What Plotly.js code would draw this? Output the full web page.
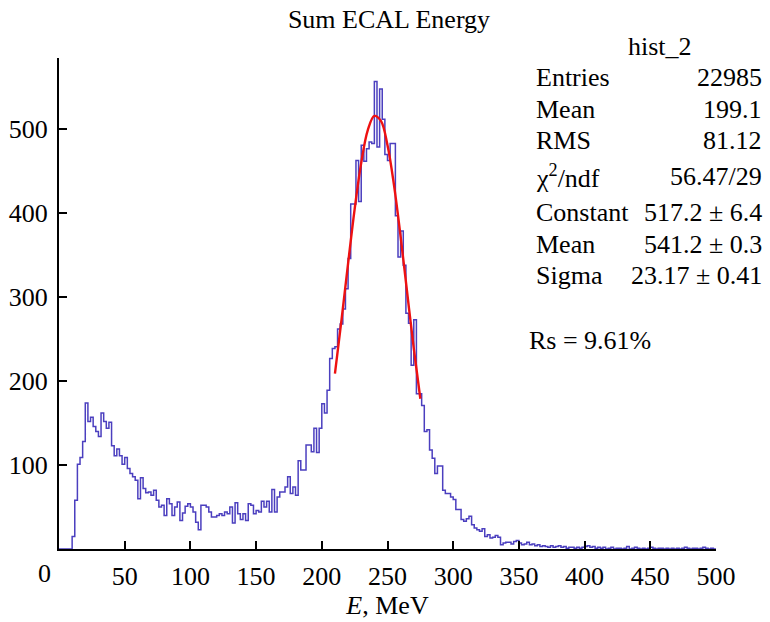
<!DOCTYPE html>
<html>
<head>
<meta charset="utf-8">
<script src="https://cdn.plot.ly/plotly-3.0.1.min.js"></script>
<style>
  html, body { margin: 0; padding: 0; background: #ffffff; }
  #chart { width: 770px; height: 622px; }
</style>
</head>
<body>
<div id="chart"></div>
<script>
// ---- Histogram definition: 2 MeV bins from 0 to 500 MeV ----
const binLow = 0;
const binWidth = 2;

// counts per bin, 10 bins (20 MeV) per row
const countsLow = [
  0, 0, 0, 0, 0, 15, 58, 101, 109, 128,          // 0-20
  174, 152, 157, 146, 140, 134, 162, 152, 144, 151, // 20-40
  123, 111, 119, 111, 101, 109, 96, 90, 86, 82,  // 40-60
  60, 85, 72, 67, 68, 64, 70, 58, 50, 52,        // 60-80
  40, 60, 54, 40, 50, 56, 34, 43, 51, 54,        // 80-100
  50, 44, 32, 23, 52, 52, 50, 44, 38, 38,        // 100-120
  40, 42, 40, 44, 42, 50, 31, 55, 42, 35,        // 120-140
  42, 34, 54, 52, 42, 46, 44, 57, 50, 57,        // 140-160
  44, 71, 44, 62, 68, 68, 74, 86, 66, 74,        // 160-180
  64, 105, 94, 94, 124, 124, 116, 144, 115, 144  // 180-200
];
const countsPeak = [
  173, 162, 189, 227, 239, 241, 262, 268, 286, 310, // 200-220
  346, 411, 411, 463, 414, 481, 462, 477, 485, 483, // 220-240
  557, 479, 548, 512, 470, 463, 483, 483, 397, 348, // 240-260
  379, 338, 281, 269, 219, 273, 185, 185, 171, 140, // 260-280
  142, 118, 108, 90, 99, 99, 70, 66, 66, 62,        // 280-300
  59, 47, 47, 35, 33, 36, 39, 29, 25, 23,           // 300-320
  21, 24, 15, 17, 13, 14, 16, 14, 5, 7              // 320-340
];
const countsTail = [
  8, 8, 6, 9, 10, 7, 5, 6, 8, 5,   // 340-360
  6, 4, 5, 3, 4, 3, 2, 4, 2, 3,    // 360-380
  4, 2, 3, 1, 2, 2, 1, 2, 1, 2,    // 380-400
  3, 4, 2, 3, 1, 2, 1, 2, 0, 1,    // 400-420
  2, 0, 1, 1, 0, 1, 3, 0, 1, 2,    // 420-440
  1, 0, 1, 0, 1, 2, 1, 0, 1, 1,    // 440-460
  0, 1, 0, 1, 0, 1, 0, 1, 2, 1,    // 460-480
  0, 1, 1, 0, 1, 2, 1, 0, 1, 0     // 480-500
];

// Gaussian fit curve as drawn
const fitE = [210, 215, 220, 225, 230, 235, 240, 245, 250, 255, 260, 265, 270, 275];
const fitY = [209, 273, 340, 405, 460, 499, 516, 510, 481, 433, 372, 305, 239, 179];

// Axis ticks
const xTickVals = [50, 100, 150, 200, 250, 300, 350, 400, 450, 500];
const yTickVals = [100, 200, 300, 400, 500];

// Stats box text
const statsTitle = 'hist_2';
const statsLabels = ['Entries', 'Mean', 'RMS', 'χ<sup>2</sup>/ndf', 'Constant', 'Mean', 'Sigma'];
const statsValues = ['22985', '199.1', '81.12', '56.47/29', '517.2 ± 6.4', '541.2 ± 0.3', '23.17 ± 0.41'];
const resolutionText = 'Rs = 9.61%';

// ---- build step histogram ----
const counts = countsLow.concat(countsPeak, countsTail);
const edges = [];
const stepY = [];
for (let i = 0; i < counts.length; i++) {
  edges.push(binLow + i * binWidth);
  stepY.push(counts[i]);
}
edges.push(binLow + counts.length * binWidth);
stepY.push(counts[counts.length - 1]);

// pixel geometry helpers (plot area)
const L = 59, R = 54, T = 58, B = 73, W = 770, H = 622;
const pw = W - L - R, ph = H - T - B;
const px = x => (x - L) / pw;
const py = y => (H - B - y) / ph;

const FONT = 'Liberation Serif, Times New Roman, serif';
const SF = 26; // stats font size
const annotations = [];
annotations.push({text: statsTitle, xref: 'paper', yref: 'paper', x: px(660), y: py(47),
  xanchor: 'center', yanchor: 'middle', showarrow: false, font: {family: FONT, size: SF, color: '#000'}});
const rowY = [78, 109, 140, 176, 212, 244, 275];
for (let i = 0; i < statsLabels.length; i++) {
  annotations.push({text: statsLabels[i], xref: 'paper', yref: 'paper', x: px(534), y: py(rowY[i]),
    xanchor: 'left', yanchor: 'middle', showarrow: false, font: {family: FONT, size: SF, color: '#000'}});
  annotations.push({text: statsValues[i], xref: 'paper', yref: 'paper', x: px(764), y: py(rowY[i]),
    xanchor: 'right', yanchor: 'middle', showarrow: false, font: {family: FONT, size: SF, color: '#000'}});
}
annotations.push({text: resolutionText, xref: 'paper', yref: 'paper', x: px(527), y: py(340),
  xanchor: 'left', yanchor: 'middle', showarrow: false, font: {family: FONT, size: SF, color: '#000'}});
// origin label of x axis
annotations.push({text: '0', xref: 'paper', yref: 'paper', x: px(44), y: py(573),
  xanchor: 'center', yanchor: 'middle', showarrow: false, font: {family: FONT, size: 26, color: '#000'}});

const data = [
  {
    type: 'scatter', mode: 'lines', x: edges, y: stepY,
    line: {shape: 'hv', color: '#4b3fbf', width: 1.5},
    hoverinfo: 'skip', showlegend: false
  },
  {
    type: 'scatter', mode: 'lines', x: fitE, y: fitY,
    line: {shape: 'spline', color: '#ee1111', width: 2.4},
    hoverinfo: 'skip', showlegend: false
  }
];

const layout = {
  width: W, height: H,
  margin: {l: L, r: R, t: T, b: B, pad: 0},
  paper_bgcolor: '#ffffff', plot_bgcolor: '#ffffff',
  font: {family: FONT, color: '#000'},
  title: {text: 'Sum ECAL Energy', x: 389 / W, xanchor: 'center', y: 1 - 19 / H, yanchor: 'middle',
    yref: 'container', xref: 'container', font: {family: FONT, size: 26, color: '#000'}},
  xaxis: {
    range: [0, 500], tickvals: xTickVals, ticks: 'inside', ticklen: 8, tickwidth: 2, tickcolor: '#000',
    showline: true, linecolor: '#000', linewidth: 2, showgrid: false, zeroline: false,
    layer: 'above traces',
    tickfont: {family: FONT, size: 26, color: '#000'}, ticklabelstandoff: 3,
    title: {text: '<i>E</i>, MeV', font: {family: FONT, size: 26, color: '#000'}, standoff: 5}
  },
  yaxis: {
    range: [0, 585], tickvals: yTickVals, ticks: 'inside', ticklen: 8, tickwidth: 2, tickcolor: '#000',
    showline: true, linecolor: '#000', linewidth: 2, showgrid: false, zeroline: false,
    layer: 'above traces',
    tickfont: {family: FONT, size: 26, color: '#000'}, ticklabelstandoff: 4
  },
  annotations: annotations,
  showlegend: false
};

Plotly.newPlot('chart', data, layout, {staticPlot: true, displayModeBar: false});
</script>
</body>
</html>
